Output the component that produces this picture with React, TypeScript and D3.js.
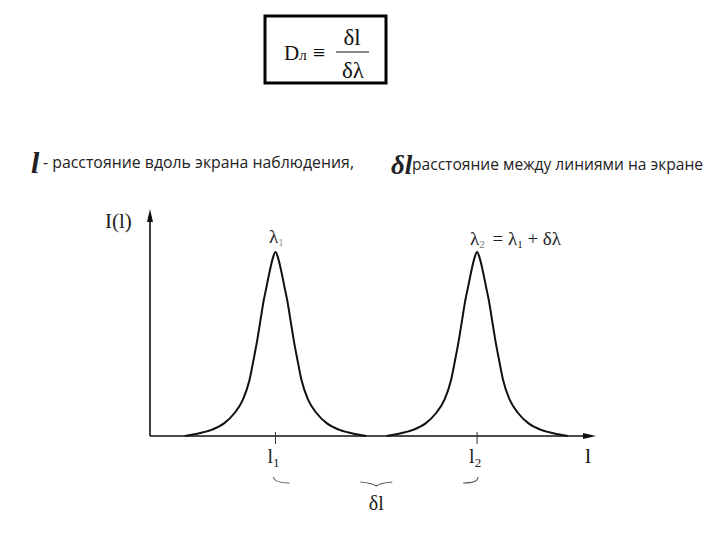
import React from "react";
import * as d3 from "d3";

// peak centres (data units along l) and labels
const peakCenters = [28.2, 73.5];
const peakLabels = ["1", "2"];
// half-profile of one line: offset from centre and relative intensity
const profileOffsets = [20.4, 18.2, 14.4, 11.5, 9.2, 7.35, 5.84, 4.94, 4.11, 3.37, 2.63, 2.02, 1.35, 0.67, 0];
const profileHeights = [0.0, 0.01, 0.033, 0.07, 0.125, 0.196, 0.304, 0.413, 0.52, 0.63, 0.739, 0.81, 0.89, 0.96, 1.0];

const W = 720;
const H = 540;
const SERIF = "'Liberation Serif', 'Times New Roman', serif";
const SANS = "'Open Sans', 'Noto Sans', sans-serif";

export default function App() {
  const x = d3.scaleLinear().domain([0, 100]).range([150, 595]);
  const y = d3.scaleLinear().domain([0, 1]).range([436, 252]);

  const line = d3
    .line<{ x: number; y: number }>()
    .x((d) => x(d.x))
    .y((d) => y(d.y))
    .curve(d3.curveMonotoneX);

  const peakPath = (c: number) => {
    const left = profileOffsets.map((o, i) => ({ x: c - o, y: profileHeights[i] }));
    const right = profileOffsets
      .slice(0, -1)
      .reverse()
      .map((o, i) => ({ x: c + o, y: profileHeights[profileHeights.length - 2 - i] }));
    return line(left.concat(right)) || "";
  };

  const x0 = x(0);
  const y0 = y(0);
  const xEnd = x(100);
  const p1 = x(peakCenters[0]);
  const p2 = x(peakCenters[1]);
  const mid = (p1 + p2) / 2;

  return (
    <svg width={W} height={H} style={{ position: "absolute", left: 0, top: 0, background: "#fff" }}>
      <rect width={W} height={H} fill="#fff" />
      {/* formula box */}
      <rect x={265} y={16} width={121} height={67} fill="none" stroke="#000" strokeWidth={3} />
      <text x={284} y={60} fontFamily={SERIF} fontSize={21} fill="#111">
        D<tspan fontSize={15}>л</tspan>
        <tspan dx={6} fontSize={22}>≡</tspan>
      </text>
      <text x={352} y={45} fontFamily={SERIF} fontSize={23} fill="#111" textAnchor="middle">
        δl
      </text>
      <line x1={336} x2={369} y1={52} y2={52} stroke="#111" strokeWidth={1.2} />
      <text x={353} y={78} fontFamily={SERIF} fontSize={23} fill="#111" textAnchor="middle">
        δλ
      </text>

      {/* description lines */}
      <text x={31} y={173} fontFamily={SERIF} fontSize={30} fontStyle="italic" fontWeight="bold" fill="#222">
        l
      </text>
      <text x={43} y={168} fontFamily={SANS} fontSize={15.5} fill="#222" textLength={311} lengthAdjust="spacingAndGlyphs">
        - расстояние вдоль экрана наблюдения,
      </text>
      <text x={391} y={174} fontFamily={SERIF} fontSize={27} fontStyle="italic" fontWeight="bold" fill="#222">
        δl
      </text>
      <text x={412} y={170} fontFamily={SANS} fontSize={15.5} fill="#222" textLength={291} lengthAdjust="spacingAndGlyphs">
        расстояние между линиями на экране
      </text>

      {/* axes */}
      <line x1={x0} x2={x0} y1={y0} y2={220} stroke="#111" strokeWidth={1.6} />
      <path d={`M${x0},209 L${x0 - 3},222 L${x0 + 3},222 Z`} fill="#111" />
      <line x1={x0} x2={xEnd - 10} y1={y0} y2={y0} stroke="#111" strokeWidth={1.6} />
      <path d={`M${xEnd + 1},${y0} L${xEnd - 12},${y0 - 3} L${xEnd - 12},${y0 + 3} Z`} fill="#111" />

      <text x={105} y={228} fontFamily={SERIF} fontSize={21} fill="#222">
        I(l)
      </text>
      <text x={585} y={463} fontFamily={SERIF} fontSize={22} fill="#111">
        l
      </text>

      {/* peaks */}
      {peakCenters.map((c, i) => (
        <path key={i} d={peakPath(c)} fill="none" stroke="#111" strokeWidth={2} />
      ))}

      {/* ticks and tick labels */}
      {peakCenters.map((c, i) => (
        <g key={"t" + i}>
          <line x1={x(c)} x2={x(c)} y1={y0 - 4} y2={y0 + 8} stroke="#333" strokeWidth={1} />
          <text x={x(c) - 8} y={463} fontFamily={SERIF} fontSize={20} fill="#222">
            l<tspan fontSize={13} dy={4}>{peakLabels[i]}</tspan>
          </text>
        </g>
      ))}

      {/* peak labels */}
      <text x={269} y={243} fontFamily={SERIF} fontSize={19} fill="#222">
        λ<tspan fontSize={11} dy={3} fill="#999">1</tspan>
      </text>
      <text x={470} y={245} fontFamily={SERIF} fontSize={19} fill="#222">
        λ<tspan fontSize={11} dy={3} fill="#777">2</tspan>
        <tspan dy={-3} dx={3}> = λ</tspan>
        <tspan fontSize={11} dy={3}>1</tspan>
        <tspan dy={-3}> + δλ</tspan>
      </text>

      {/* brace between l1 and l2 */}
      <path d={`M${p1 - 2},477 Q${p1 - 1},483 ${p1 + 14},483`} fill="none" stroke="#555" strokeWidth={1.1} />
      <path d={`M${mid - 16},482 Q${mid - 4},483 ${mid},486 Q${mid + 4},483 ${mid + 16},482`} fill="none" stroke="#555" strokeWidth={1.1} />
      <path d={`M${p2 - 14},483 Q${p2 + 1},483 ${p2 + 1},477`} fill="none" stroke="#555" strokeWidth={1.1} />
      <text x={mid} y={510} fontFamily={SERIF} fontSize={20} fill="#222" textAnchor="middle">
        δl
      </text>
    </svg>
  );
}
